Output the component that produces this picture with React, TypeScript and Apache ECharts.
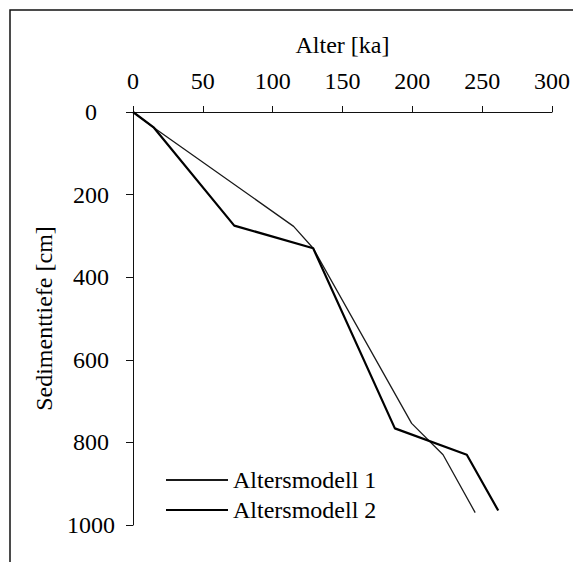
import React, { useEffect, useRef } from "react";
import * as echarts from "echarts";

// Age (ka) vs. sediment depth (cm) for the two age models
const model1Age = [0, 15, 115, 129, 199.5, 222, 245];
const model1Depth = [0, 38, 277, 330, 754, 830, 970];
const model2Age = [0, 15, 72.5, 129, 187.5, 239, 261.5];
const model2Depth = [0, 38, 275, 330, 766, 830, 965];

const seriesNames = ["Altersmodell 1", "Altersmodell 2"];
const xTitle = "Alter [ka]";
const yTitle = "Sedimenttiefe [cm]";

const FONT = "'Liberation Serif', 'Times New Roman', serif";

function pairs(xs: number[], ys: number[]) {
  return xs.map((x, i) => [x, ys[i]]);
}

export default function App() {
  const ref = useRef<HTMLDivElement>(null);

  useEffect(() => {
    if (!ref.current) return;
    const chart = echarts.init(ref.current, undefined, { renderer: "svg" });
    const axisText = { color: "#000", fontFamily: FONT, fontSize: 24 };
    chart.setOption({
      animation: false,
      backgroundColor: "#fff",
      graphic: [
        {
          type: "rect",
          shape: { x: 10, y: 10, width: 700, height: 700 },
          style: { fill: "none", stroke: "#111", lineWidth: 1.5 },
          silent: true,
        },
      ],
      grid: { left: 133, top: 112, right: 21, bottom: 37, containLabel: false },
      legend: {
        orient: "vertical",
        left: 160,
        top: 463,
        itemWidth: 62,
        itemHeight: 14,
        itemGap: 6,
        data: seriesNames,
        itemStyle: { opacity: 0 },
        textStyle: { ...axisText },
      },
      xAxis: {
        type: "value",
        position: "top",
        min: 0,
        max: 300,
        interval: 50,
        name: xTitle,
        nameLocation: "middle",
        nameGap: 55,
        nameTextStyle: { ...axisText },
        axisLine: { show: true, lineStyle: { color: "#111", width: 1 } },
        axisTick: { show: true, length: 6, lineStyle: { color: "#111" } },
        axisLabel: { ...axisText, margin: 19 },
        splitLine: { show: false },
      },
      yAxis: {
        type: "value",
        inverse: true,
        min: 0,
        max: 1000,
        interval: 200,
        name: yTitle,
        nameLocation: "middle",
        nameRotate: 90,
        nameGap: 71,
        nameTextStyle: { ...axisText },
        axisLine: { show: true, lineStyle: { color: "#111", width: 1 } },
        axisTick: { show: true, length: 7, lineStyle: { color: "#111" } },
        axisLabel: {
          ...axisText,
          margin: 42,
          align: "center",
          formatter: (v: number) => String(v),
        },
        splitLine: { show: false },
      },
      series: [
        {
          name: seriesNames[0],
          type: "line",
          symbol: "none",
          data: pairs(model1Age, model1Depth),
          lineStyle: { color: "#1a1a1a", width: 1.3 },
          itemStyle: { color: "#1a1a1a" },
        },
        {
          name: seriesNames[1],
          type: "line",
          symbol: "none",
          data: pairs(model2Age, model2Depth),
          lineStyle: { color: "#000", width: 2.2 },
          itemStyle: { color: "#000" },
        },
      ],
    });
    return () => chart.dispose();
  }, []);

  return (
    <div
      ref={ref}
      style={{ position: "fixed", left: 0, top: 0, width: 573, height: 562 }}
    />
  );
}
